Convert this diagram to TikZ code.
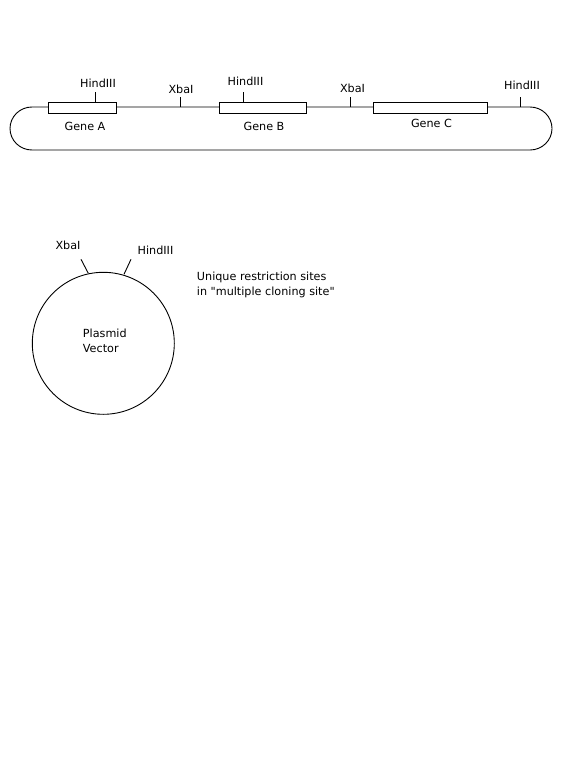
\documentclass[tikz,border=0pt]{standalone}
\usepackage{fontspec}
\setmainfont{DejaVu Sans}[Ligatures=TeXOff]
\begin{document}
\begin{tikzpicture}[x=1pt,y=-1pt,line width=0.9pt,
  lbl/.style={font=\fontsize{11.2}{13}\selectfont,inner sep=0pt},
  gene/.style={draw,fill=white,minimum height=11pt,inner sep=0pt},
  tick/.style={draw}]
\useasboundingbox (0,0) rectangle (576,776);
% linear DNA
\coordinate (tl) at (32,107);
\coordinate (tr) at (530,107);
\coordinate (bl) at (32,150);
\coordinate (br) at (530,150);
\draw (tl) -- (tr) arc[start angle=-90,end angle=90,x radius=22,y radius=21.5] -- (bl)
      arc[start angle=90,end angle=270,x radius=22,y radius=21.5];
% genes
\node[gene,minimum width=68.5pt] (gA) at (82.5,107.5) {};
\node[gene,minimum width=87pt] (gB) at (263,107.5) {};
\node[gene,minimum width=114.5pt] (gC) at (430.5,107.5) {};
\node[lbl] (gAl) at (85,126.5) {Gene A};
\node[lbl] (gBl) at (264,126.5) {Gene B};
\node[lbl] (gCl) at (431.5,123.5) {Gene C};
% sites
\coordinate (h1) at (95,102); \coordinate (h1t) at (95,92);
\coordinate (x1) at (180,107); \coordinate (x1t) at (180,96.5);
\coordinate (h2) at (243.5,102); \coordinate (h2t) at (243.5,92);
\coordinate (x2) at (350.5,107); \coordinate (x2t) at (350.5,96.5);
\coordinate (h3) at (520.5,107); \coordinate (h3t) at (520.5,96.5);
\draw (h1) -- (h1t); \draw (x1) -- (x1t); \draw (h2) -- (h2t);
\draw (x2) -- (x2t); \draw (h3) -- (h3t);
\node[lbl] (h1l) at (98,83) {HindIII};
\node[lbl] (x1l) at (181,89) {XbaI};
\node[lbl] (h2l) at (245.5,81.5) {HindIII};
\node[lbl] (x2l) at (352.5,88) {XbaI};
\node[lbl] (h3l) at (522,85) {HindIII};
% plasmid
\node[draw,circle,minimum size=142pt,inner sep=0pt] (pl) at (103.3,343.3) {};
\node[lbl,align=left,anchor=north west,font=\fontsize{11.2}{15}\selectfont] (pll) at (82.5,329) {Plasmid\\Vector};
\coordinate (px) at (88.3,273.3); \coordinate (pxt) at (81,259.3);
\coordinate (ph) at (124,274.3); \coordinate (pht) at (131,259.3);
\draw (px) -- (pxt); \draw (ph) -- (pht);
\node[lbl] (pxl) at (68,245) {XbaI};
\node[lbl] (phl) at (155.5,250) {HindIII};
\node[lbl,align=left,anchor=north west,font=\fontsize{11.2}{15}\selectfont] (ut) at (196.5,272) {Unique restriction sites\\in "multiple cloning site"};
\end{tikzpicture}
\end{document}
